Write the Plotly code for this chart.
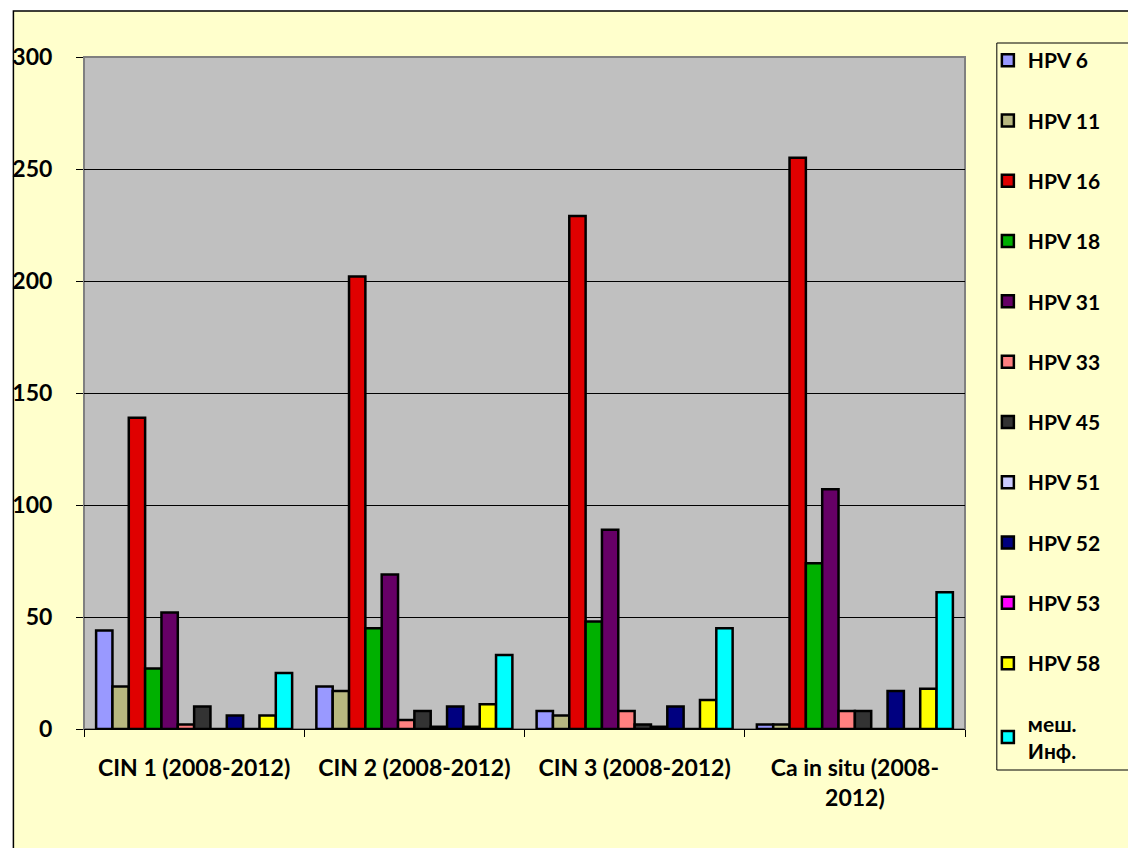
import plotly.graph_objects as go

categories = ["CIN 1 (2008-2012)", "CIN 2 (2008-2012)", "CIN 3 (2008-2012)", "Ca in situ (2008-<br>2012)"]

series_names = ["HPV 6", "HPV 11", "HPV 16", "HPV 18", "HPV 31", "HPV 33",
                "HPV 45", "HPV 51", "HPV 52", "HPV 53", "HPV 58", "меш.<br>Инф."]

hpv6 = [44, 19, 8, 2]
hpv11 = [19, 17, 6, 2]
hpv16 = [139, 202, 229, 255]
hpv18 = [27, 45, 48, 74]
hpv31 = [52, 69, 89, 107]
hpv33 = [2, 4, 8, 8]
hpv45 = [10, 8, 2, 8]
hpv51 = [0, 1, 1, 0]
hpv52 = [6, 10, 10, 17]
hpv53 = [0, 1, 0, 0]
hpv58 = [6, 11, 13, 18]
mixed = [25, 33, 45, 61]

series_values = [hpv6, hpv11, hpv16, hpv18, hpv31, hpv33,
                 hpv45, hpv51, hpv52, hpv53, hpv58, mixed]

colors = ["#9999FF", "#B8B880", "#E00000", "#00B000", "#660066", "#FF8080",
          "#333333", "#CCCCFF", "#000080", "#FF00FF", "#FFFF00", "#00FFFF"]

y_ticks = [0, 50, 100, 150, 200, 250, 300]

FONT = "Lato, 'Open Sans', Arial, sans-serif"

fig = go.Figure()
for i, (name, vals, col) in enumerate(zip(series_names, series_values, colors)):
    fig.add_trace(go.Bar(
        x=categories, y=vals, name=name, legendgroup=f"g{i}",
        marker=dict(color=col, line=dict(color="black", width=2.5)),
    ))

# plot-area pixel geometry
L, R, T, B = 79, 163, 57, 119
W, H = 1128, 848
pw, ph = W - L - R, H - T - B

def px(x):
    return (x - L) / pw

def py(y):
    return (H - B - y) / ph

shapes = [
    # outer yellow chart area with black border
    dict(type="rect", xref="paper", yref="paper", layer="below",
         x0=px(8), x1=px(1140), y0=py(860), y1=py(11),
         fillcolor="#FFFFCC", line=dict(color="black", width=1.5)),
    # gray plot area
    dict(type="rect", xref="paper", yref="paper", layer="below",
         x0=0, x1=1, y0=0, y1=1,
         fillcolor="#C0C0C0", line=dict(color="#808080", width=2)),
    # legend box
    dict(type="rect", xref="paper", yref="paper", layer="below",
         x0=px(997), x1=px(1140), y0=py(770), y1=py(43),
         fillcolor="rgba(0,0,0,0)", line=dict(color="black", width=1)),
]

fig.update_layout(
    width=W, height=H,
    margin=dict(l=L, r=R, t=T, b=B, pad=0),
    paper_bgcolor="white",
    plot_bgcolor="rgba(0,0,0,0)",
    font=dict(family=FONT, size=23, color="black", weight="bold"),
    barmode="group",
    bargap=0.11,
    bargroupgap=0,
    shapes=shapes,
    showlegend=True,
    legend=dict(
        x=px(988), xanchor="left", y=py(40), yanchor="top",
        bgcolor="rgba(0,0,0,0)", borderwidth=0,
        font=dict(family=FONT, size=21, color="black", weight="bold"),
        traceorder="grouped", tracegroupgap=30,
        maxheight=800,
    ),
    xaxis=dict(
        tickson="boundaries", ticks="outside", ticklen=7, tickcolor="black",
        showline=True, linecolor="black", linewidth=1,
        showgrid=False, zeroline=False, ticklabelstandoff=18,
        tickfont=dict(family=FONT, size=23, color="black", weight="bold"),
    ),
    yaxis=dict(
        range=[0, 300], tickmode="array", tickvals=y_ticks,
        ticks="outside", ticklen=7, tickcolor="black",
        showline=False, showgrid=True, gridcolor="black", gridwidth=1,
        zeroline=False, ticklabelstandoff=19,
        tickfont=dict(family=FONT, size=23, color="black", weight="bold"),
    ),
)

fig.write_html(
    "out.html",
    config={"displayModeBar": False},
    post_script="document.body.style.margin='0';document.body.style.overflow='hidden';",
)
